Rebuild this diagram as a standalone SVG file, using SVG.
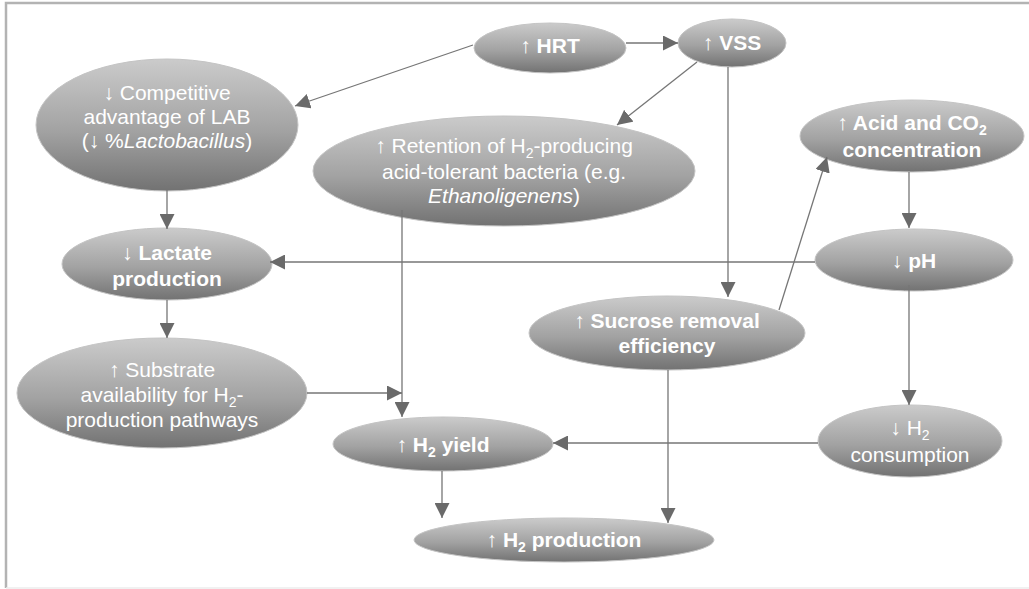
<svg xmlns="http://www.w3.org/2000/svg" width="1029" height="589" viewBox="0 0 1029 589">
<defs>
<linearGradient id="g" x1="0" y1="0" x2="0" y2="1">
<stop offset="0" stop-color="#cbcbcb"/>
<stop offset="0.55" stop-color="#a2a2a2"/>
<stop offset="1" stop-color="#727272"/>
</linearGradient>
<marker id="ah" markerUnits="userSpaceOnUse" markerWidth="15" markerHeight="15" viewBox="0 0 15 15" refX="15" refY="7.5" orient="auto">
<path d="M0,0 L15,7.5 L0,15 z" fill="#6a6a6a"/>
</marker>
<style>
.n{fill:url(#g);stroke:#c4c4c4;stroke-width:1}
text{font-family:"Liberation Sans",Arial,sans-serif;font-size:21px;fill:#ffffff;text-anchor:middle}
.b{font-weight:bold}
.ar{font-weight:normal}
.sub{font-size:14px}
.c{fill:none;stroke:#767676;stroke-width:1.3;marker-end:url(#ah)}
.frame{stroke:#b3b3b3;stroke-width:2.5;fill:none}
</style>
</defs>
<rect width="1029" height="589" fill="#ffffff"/>
<path class="frame" d="M6,588 L6,3 L1029,3"/>
<line x1="6" y1="588" x2="1029" y2="588" stroke="#ececec" stroke-width="1.5"/>

<g id="hrt"><ellipse class="n" cx="550" cy="48" rx="76" ry="25"/><text class="b" x="550" y="53"><tspan class="ar">↑</tspan> HRT</text></g>
<g id="vss"><ellipse class="n" cx="732" cy="43" rx="54" ry="24"/><text class="b" x="732" y="50"><tspan class="ar">↑</tspan> VSS</text></g>
<g id="competitive"><ellipse class="n" cx="167" cy="125" rx="131" ry="66"/>
<text x="167" y="100">↓ Competitive</text><text x="167" y="124">advantage of LAB</text><text x="167" y="148">(↓ %<tspan font-style="italic">Lactobacillus</tspan>)</text></g>
<g id="retention"><ellipse class="n" cx="504" cy="171" rx="191" ry="55"/>
<text x="504" y="153">↑ Retention of H<tspan class="sub" dy="5">2</tspan><tspan dy="-5">-producing</tspan></text><text x="504" y="179">acid-tolerant bacteria (e.g.</text><text x="504" y="203"><tspan font-style="italic">Ethanoligenens</tspan>)</text></g>
<g id="acid"><ellipse class="n" cx="912" cy="136" rx="112" ry="36"/>
<text class="b" x="912" y="130"><tspan class="ar">↑</tspan> Acid and CO<tspan class="sub" dy="5">2</tspan></text><text class="b" x="912" y="157">concentration</text></g>
<g id="lactate"><ellipse class="n" cx="167" cy="264" rx="105" ry="36"/>
<text class="b" x="167" y="260"><tspan class="ar">↓</tspan> Lactate</text><text class="b" x="167" y="286">production</text></g>
<g id="ph"><ellipse class="n" cx="914" cy="260" rx="99" ry="31"/><text class="b" x="914" y="268"><tspan class="ar">↓</tspan> pH</text></g>
<g id="sucrose"><ellipse class="n" cx="667" cy="333" rx="138" ry="37"/>
<text class="b" x="667" y="328"><tspan class="ar">↑</tspan> Sucrose removal</text><text class="b" x="667" y="353">efficiency</text></g>
<g id="substrate"><ellipse class="n" cx="162" cy="393" rx="145" ry="55"/>
<text x="162" y="377">↑ Substrate</text><text x="162" y="402">availability for H<tspan class="sub" dy="5">2</tspan><tspan dy="-5">-</tspan></text><text x="162" y="427">production pathways</text></g>
<g id="h2yield"><ellipse class="n" cx="443" cy="444" rx="110" ry="27"/><text class="b" x="443" y="452"><tspan class="ar">↑</tspan> H<tspan class="sub" dy="5">2</tspan><tspan dy="-5"> yield</tspan></text></g>
<g id="h2cons"><ellipse class="n" cx="910" cy="441" rx="92" ry="36"/>
<text x="910" y="435">↓ H<tspan class="sub" dy="5">2</tspan></text><text x="910" y="462">consumption</text></g>
<g id="h2prod"><ellipse class="n" cx="564" cy="540" rx="150" ry="22"/><text class="b" x="564" y="547"><tspan class="ar">↑</tspan> H<tspan class="sub" dy="5">2</tspan><tspan dy="-5"> production</tspan></text></g>

<g id="connectors">
<path class="c" d="M473,45 L295,106"/>
<path class="c" d="M626,43 L678,43"/>
<path class="c" d="M697,62 L617,125"/>
<path class="c" d="M728,67 L728,297"/>
<path class="c" d="M779,310 L827,157"/>
<path class="c" d="M909,172 L909,228"/>
<path class="c" d="M815,262 L270,262"/>
<path class="c" d="M909,285 L909,405"/>
<path class="c" d="M167,190 L167,229"/>
<path class="c" d="M167,300 L167,338"/>
<path class="c" d="M402,210 L402,417"/>
<path class="c" d="M307,393 L402,393"/>
<path class="c" d="M442,471 L442,518"/>
<path class="c" d="M668,370 L668,523"/>
<path class="c" d="M818,443 L553,443"/>
</g>
</svg>
